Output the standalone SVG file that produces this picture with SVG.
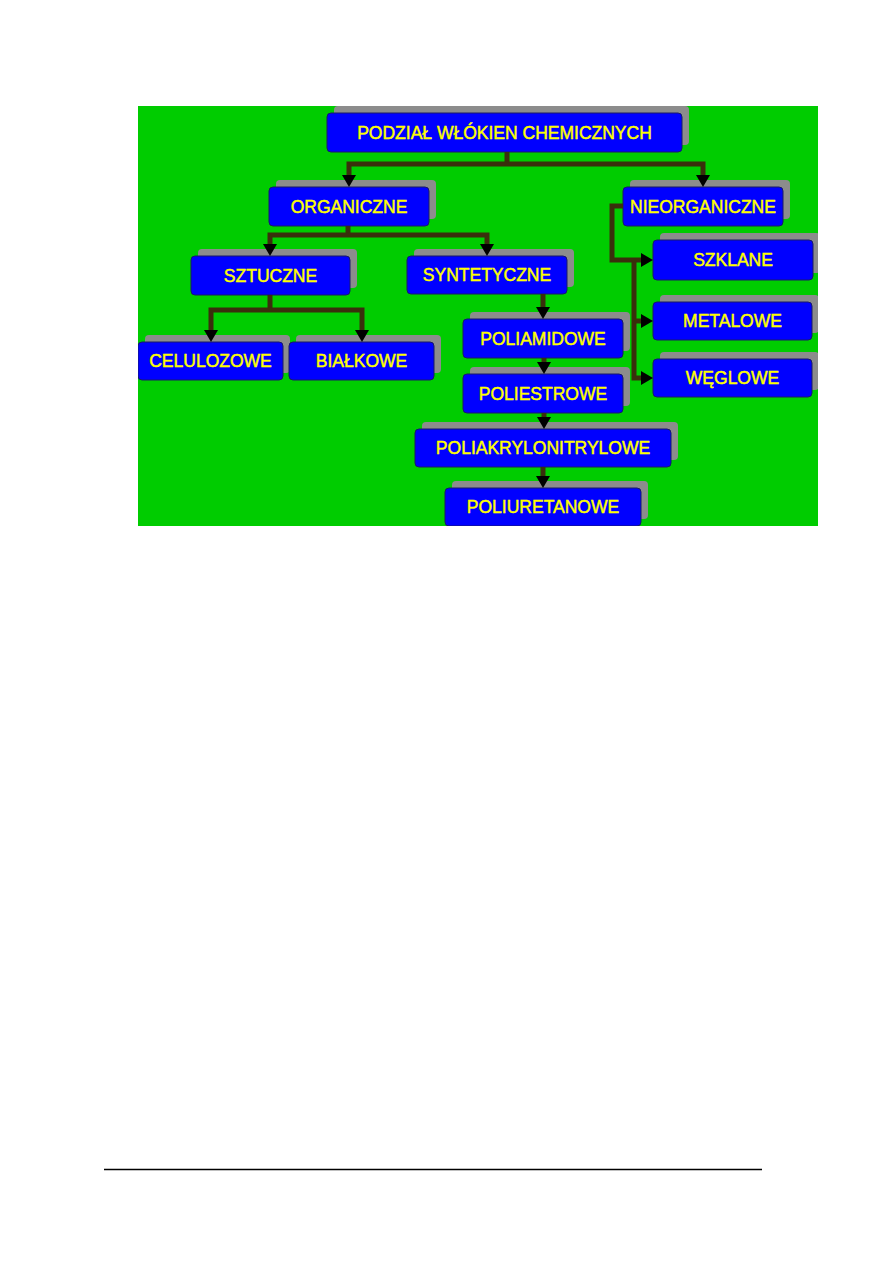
<svg xmlns="http://www.w3.org/2000/svg" width="893" height="1263" viewBox="0 0 893 1263">
<style>
.sh{fill:#8c8c8c}
.bx{fill:#0000ff;stroke:#1a1a66;stroke-width:1}
.tx{font-family:"Liberation Sans",Arial,sans-serif;font-size:17.5px;fill:#ffff00;stroke:#ffff00;stroke-width:0.45;text-anchor:middle}
.cn{fill:none;stroke:#3a2f0c;stroke-width:5;stroke-linejoin:miter;stroke-linecap:butt}
</style>
<defs>
<marker id="ar" markerUnits="userSpaceOnUse" markerWidth="13" markerHeight="14" refX="0" refY="7" orient="auto" viewBox="0 0 13 14">
<path d="M0,0 L12,7 L0,14 z" fill="#000"/>
</marker>
<clipPath id="cl"><rect x="138" y="106" width="680" height="420"/></clipPath>
</defs>
<rect width="893" height="1263" fill="#ffffff"/>
<g clip-path="url(#cl)">
<rect x="138" y="106" width="680" height="420" fill="#00cc00"/>
<g id="n-podzial"><rect class="sh" x="334" y="106" width="355" height="39" rx="4"/><rect class="bx" x="327" y="113" width="355" height="39" rx="4"/><text class="tx" x="504.5" y="138.5">PODZIAŁ WŁÓKIEN CHEMICZNYCH</text></g>
<g id="n-organiczne"><rect class="sh" x="276" y="180" width="160" height="39" rx="4"/><rect class="bx" x="269" y="187" width="160" height="39" rx="4"/><text class="tx" x="349" y="212.5">ORGANICZNE</text></g>
<g id="n-nieorganiczne"><rect class="sh" x="630" y="180" width="160" height="39" rx="4"/><rect class="bx" x="623" y="187" width="160" height="39" rx="4"/><text class="tx" x="703" y="212.5">NIEORGANICZNE</text></g>
<g id="n-sztuczne"><rect class="sh" x="198" y="249" width="159" height="39" rx="4"/><rect class="bx" x="191" y="256" width="159" height="39" rx="4"/><text class="tx" x="270.5" y="281.5">SZTUCZNE</text></g>
<g id="n-syntetyczne"><rect class="sh" x="414" y="249" width="160" height="38" rx="4"/><rect class="bx" x="407" y="256" width="160" height="38" rx="4"/><text class="tx" x="487" y="281">SYNTETYCZNE</text></g>
<g id="n-szklane"><rect class="sh" x="660" y="233" width="160" height="40" rx="4"/><rect class="bx" x="653" y="240" width="160" height="40" rx="4"/><text class="tx" x="733" y="266">SZKLANE</text></g>
<g id="n-metalowe"><rect class="sh" x="660" y="295" width="159" height="38" rx="4"/><rect class="bx" x="653" y="302" width="159" height="38" rx="4"/><text class="tx" x="732.5" y="327">METALOWE</text></g>
<g id="n-weglowe"><rect class="sh" x="660" y="352" width="159" height="38" rx="4"/><rect class="bx" x="653" y="359" width="159" height="38" rx="4"/><text class="tx" x="732.5" y="384">WĘGLOWE</text></g>
<g id="n-celulozowe"><rect class="sh" x="145" y="335" width="145" height="38" rx="4"/><rect class="bx" x="138" y="342" width="145" height="38" rx="4"/><text class="tx" x="210.5" y="367">CELULOZOWE</text></g>
<g id="n-bialkowe"><rect class="sh" x="296" y="335" width="145" height="38" rx="4"/><rect class="bx" x="289" y="342" width="145" height="38" rx="4"/><text class="tx" x="361.5" y="367">BIAŁKOWE</text></g>
<g id="n-poliamidowe"><rect class="sh" x="470" y="312" width="160" height="39" rx="4"/><rect class="bx" x="463" y="319" width="160" height="39" rx="4"/><text class="tx" x="543" y="344.5">POLIAMIDOWE</text></g>
<g id="n-poliestrowe"><rect class="sh" x="470" y="367" width="160" height="39" rx="4"/><rect class="bx" x="463" y="374" width="160" height="39" rx="4"/><text class="tx" x="543" y="399.5">POLIESTROWE</text></g>
<g id="n-poliakrylonitrylowe"><rect class="sh" x="422" y="422" width="256" height="38" rx="4"/><rect class="bx" x="415" y="429" width="256" height="38" rx="4"/><text class="tx" x="543" y="454">POLIAKRYLONITRYLOWE</text></g>
<g id="n-poliuretanowe"><rect class="sh" x="452" y="481" width="196" height="38" rx="4"/><rect class="bx" x="445" y="488" width="196" height="38" rx="4"/><text class="tx" x="543" y="513">POLIURETANOWE</text></g>
<g id="connectors">
<path class="cn" d="M507,152 V164"/>
<path class="cn" d="M507,164 H349 V175" marker-end="url(#ar)"/>
<path class="cn" d="M507,164 H703 V175" marker-end="url(#ar)"/>
<path class="cn" d="M348,226 V235"/>
<path class="cn" d="M348,235 H270 V244" marker-end="url(#ar)"/>
<path class="cn" d="M348,235 H487 V244" marker-end="url(#ar)"/>
<path class="cn" d="M270,295 V310"/>
<path class="cn" d="M270,310 H211 V330" marker-end="url(#ar)"/>
<path class="cn" d="M270,310 H362 V330" marker-end="url(#ar)"/>
<path class="cn" d="M543,294 V307" marker-end="url(#ar)"/>
<path class="cn" d="M544,358 V362" marker-end="url(#ar)"/>
<path class="cn" d="M544,413 V417" marker-end="url(#ar)"/>
<path class="cn" d="M543,467 V476" marker-end="url(#ar)"/>
<path class="cn" d="M623,206 H612 V260 H641" marker-end="url(#ar)"/>
<path class="cn" d="M634,260 V378 H641" marker-end="url(#ar)"/>
<path class="cn" d="M634,321 H641" marker-end="url(#ar)"/>
</g>
</g>
<line x1="104" y1="1169.5" x2="762" y2="1169.5" stroke="#000" stroke-width="1.3"/>
</svg>
